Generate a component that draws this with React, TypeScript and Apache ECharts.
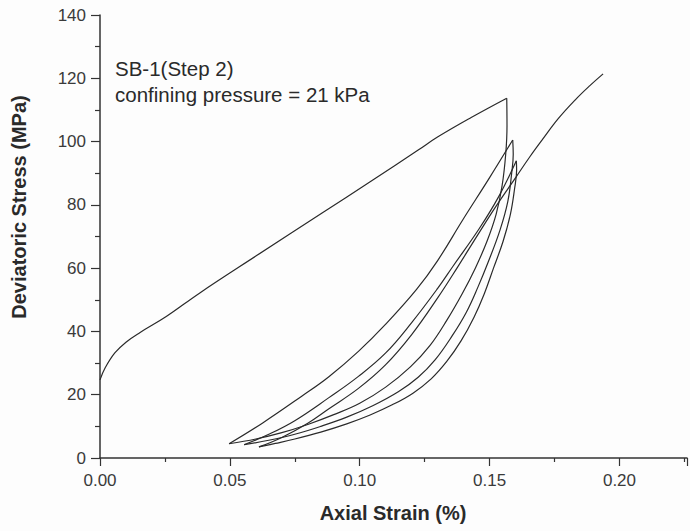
import React, { useEffect, useRef } from "react";
import * as echarts from "echarts";

// Axial strain (%) vs deviatoric stress (MPa)
const initialLoading: number[][] = [
  [0, 24.7], [0.002, 28.5], [0.0057, 33.2], [0.01, 36.6], [0.0153, 39.6],
  [0.0255, 44.7], [0.0383, 52.1], [0.06, 63.8], [0.0855, 77.4], [0.1046, 87.6],
  [0.1225, 97.3], [0.1301, 101.5], [0.1429, 107.6], [0.1566, 113.7],
];
const unloading1: number[][] = [
  [0.1566, 113.7], [0.1567, 105], [0.1562, 96], [0.1548, 86], [0.1525, 77],
  [0.149, 68.5], [0.1445, 60], [0.1395, 52], [0.1335, 43.5], [0.127, 35.5],
  [0.1195, 28.8], [0.11, 22.4], [0.1, 17.3], [0.09, 13.7], [0.08, 10.6],
  [0.07, 8], [0.06, 6], [0.0497, 4.5],
];
const reloading1: number[][] = [
  [0.0497, 4.5], [0.0625, 11], [0.0778, 19.6], [0.088, 25.6], [0.0995, 33.7],
  [0.11, 42.3], [0.1218, 53.2], [0.13, 62.4], [0.1397, 75.3], [0.15, 88.6], [0.1589, 100.5],
];
const unloading2: number[][] = [
  [0.1589, 100.5], [0.1591, 96], [0.1585, 90], [0.157, 81], [0.154, 72],
  [0.1495, 62], [0.1455, 54], [0.141, 46], [0.1355, 38.5], [0.129, 31],
  [0.1225, 25.5], [0.115, 21], [0.105, 16.5], [0.095, 12.9], [0.085, 10],
  [0.075, 7.5], [0.065, 5.6], [0.0555, 4.2],
];
const reloading2: number[][] = [
  [0.0555, 4.2], [0.065, 7.5], [0.075, 11.8], [0.088, 19], [0.0995, 25.8],
  [0.11, 33.2], [0.12, 42.8], [0.13, 53.6], [0.1359, 60.6], [0.1461, 72.6], [0.1535, 82.6],
  [0.1603, 93.9],
];
const unloading3: number[][] = [
  [0.1603, 93.9], [0.1604, 91], [0.1596, 85], [0.158, 77], [0.1552, 68.5],
  [0.1515, 60], [0.148, 52], [0.144, 44.5], [0.139, 37], [0.1335, 30.5],
  [0.1275, 25], [0.1205, 20.5], [0.1125, 16.8], [0.104, 13.6], [0.095, 10.8],
  [0.085, 8.2], [0.075, 6], [0.0675, 4.6], [0.0612, 3.5],
];
const reloading3: number[][] = [
  [0.0612, 3.5], [0.07, 6.5], [0.08, 11], [0.088, 15.5], [0.0995, 22],
  [0.11, 29.5], [0.12, 39], [0.13, 50.6], [0.1378, 60.5], [0.1455, 70.6],
  [0.1525, 79.6], [0.1601, 88.7], [0.1655, 95.2], [0.1703, 100.6],
  [0.1765, 107.3], [0.183, 113.2], [0.1885, 117.6], [0.1937, 121.4],
];

const segments = [
  initialLoading, unloading1, reloading1, unloading2, reloading2, unloading3, reloading3,
];

const xTitle = "Axial Strain (%)";
const yTitle = "Deviatoric Stress (MPa)";
const noteLines = ["SB-1(Step 2)", "confining pressure = 21 kPa"];

const X_MAX = 0.226;
const Y_MAX = 140;

export default function App() {
  const ref = useRef<HTMLDivElement>(null);
  useEffect(() => {
    if (!ref.current) return;
    const chart = echarts.init(ref.current, null, { renderer: "svg" });
    const axisColor = "#333";
    const font = "Liberation Sans, Arial, sans-serif";
    chart.setOption({
      animation: false,
      backgroundColor: "#fdfdfd",
      grid: { left: 100, top: 15, width: 590, height: 443, containLabel: false },
      xAxis: {
        type: "value",
        min: 0,
        max: X_MAX,
        interval: 0.05,
        axisLine: { show: true, lineStyle: { color: axisColor, width: 1.5 } },
        axisTick: { show: true, length: 8, lineStyle: { color: axisColor, width: 1.2 } },
        minorTick: { show: true, splitNumber: 2, length: 4, lineStyle: { color: axisColor, width: 1.2 } },
        splitLine: { show: false },
        axisLabel: {
          color: "#3a3a3a",
          fontSize: 17,
          fontFamily: font,
          margin: 14,
          formatter: (v: number) => {
            const k = v / 0.05;
            return Math.abs(k - Math.round(k)) < 1e-6 ? v.toFixed(2) : "";
          },
        },
      },
      yAxis: {
        type: "value",
        min: 0,
        max: Y_MAX,
        interval: 20,
        axisLine: { show: true, lineStyle: { color: axisColor, width: 1.5 } },
        axisTick: { show: true, length: 9, lineStyle: { color: axisColor, width: 1.2 } },
        minorTick: { show: true, splitNumber: 2, length: 5, lineStyle: { color: axisColor, width: 1.2 } },
        splitLine: { show: false },
        axisLabel: { color: "#3a3a3a", fontSize: 17, fontFamily: font, margin: 14 },
      },
      series: segments.map((seg) => ({
        type: "line",
        data: seg,
        showSymbol: false,
        smooth: 0.4,
        lineStyle: { color: "#2a2a2a", width: 1.2 },
        silent: true,
      })),
      graphic: [
        {
          type: "text",
          x: 393,
          y: 513,
          style: {
            text: xTitle,
            fontSize: 20,
            fontWeight: "bold",
            fontFamily: font,
            fill: "#2a2a2a",
            textAlign: "center",
            textVerticalAlign: "middle",
          },
        },
        {
          type: "text",
          x: 19,
          y: 207,
          rotation: Math.PI / 2,
          style: {
            text: yTitle,
            fontSize: 20,
            fontWeight: "bold",
            fontFamily: font,
            fill: "#2a2a2a",
            textAlign: "center",
            textVerticalAlign: "middle",
          },
        },
        {
          type: "text",
          x: 115,
          y: 68,
          style: {
            text: noteLines[0],
            fontSize: 20.5,
            fontFamily: font,
            fill: "#2a2a2a",
            textAlign: "left",
            textVerticalAlign: "middle",
          },
        },
        {
          type: "text",
          x: 115,
          y: 94,
          style: {
            text: noteLines[1],
            fontSize: 20.5,
            fontFamily: font,
            fill: "#2a2a2a",
            textAlign: "left",
            textVerticalAlign: "middle",
          },
        },
      ],
    });
    return () => chart.dispose();
  }, []);
  return (
    <div
      ref={ref}
      style={{ position: "fixed", left: 0, top: 0, width: 690, height: 531 }}
    />
  );
}
